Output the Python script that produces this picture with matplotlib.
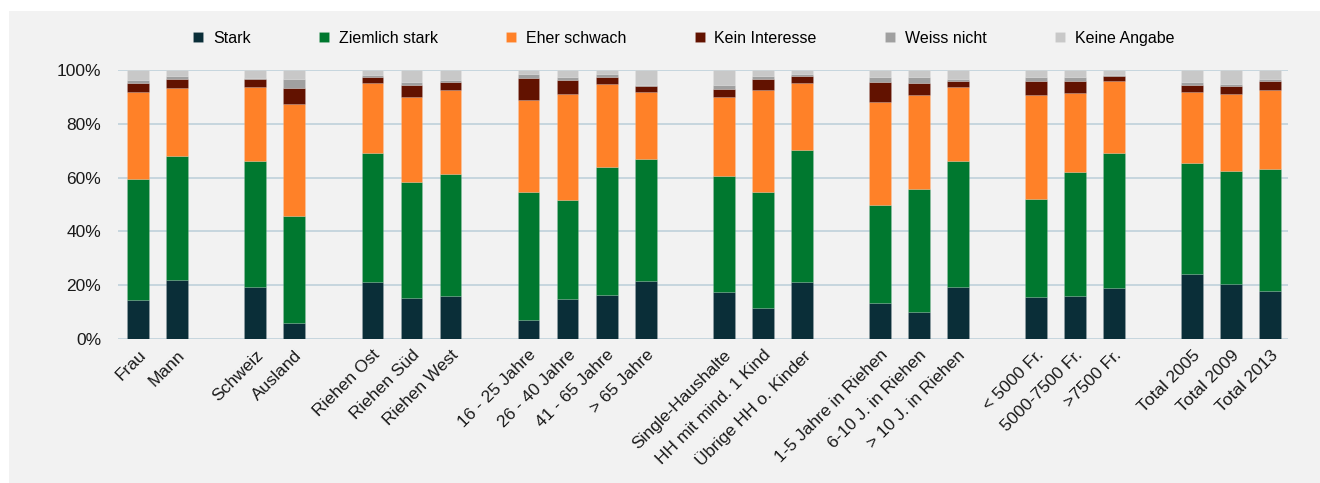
import numpy as np
import matplotlib
matplotlib.use("Agg")
import matplotlib.pyplot as plt
from matplotlib.patches import Rectangle
from matplotlib.ticker import FuncFormatter

plt.rcParams['font.family'] = ['Liberation Sans', 'DejaVu Sans']

# categories, with empty slots between the groups
labels = ['Frau', 'Mann', '',
          'Schweiz', 'Ausland', '',
          'Riehen Ost', 'Riehen Süd', 'Riehen West', '',
          '16 - 25 Jahre', '26 - 40 Jahre', '41 - 65 Jahre', '> 65 Jahre', '',
          'Single-Haushalte', 'HH mit mind. 1 Kind', 'Übrige HH o. Kinder', '',
          '1-5 Jahre in Riehen', '6-10 J. in Riehen', '> 10 J. in Riehen', '',
          '< 5000 Fr.', '5000-7500 Fr.', '>7500 Fr.', '',
          'Total 2005', 'Total 2009', 'Total 2013']

series = ['Stark', 'Ziemlich stark', 'Eher schwach', 'Kein Interesse', 'Weiss nicht', 'Keine Angabe']

# percent values per category (None for the gaps)
stark = [14.5, 22.1, None, 19.3, 5.8, None, 21.2, 15.3, 15.9, None,
         7.0, 14.9, 16.4, 21.6, None, 17.4, 11.6, 21.2, None,
         13.3, 9.9, 19.4, None, 15.5, 15.9, 19.1, None, 24.2, 20.4, 17.8]
ziemlich = [45.1, 46.0, None, 46.9, 40.0, None, 48.0, 43.0, 45.5, None,
            47.7, 36.8, 47.6, 45.4, None, 43.2, 43.1, 49.2, None,
            36.5, 45.9, 46.8, None, 36.4, 46.2, 50.2, None, 41.3, 42.2, 45.6]
eher = [32.3, 25.4, None, 27.6, 41.4, None, 26.1, 31.5, 31.0, None,
        34.1, 39.5, 30.8, 24.7, None, 29.5, 38.0, 24.8, None,
        38.3, 34.8, 27.6, None, 38.9, 29.3, 26.5, None, 26.2, 28.6, 29.3]
kein = [3.4, 3.3, None, 2.7, 6.0, None, 2.0, 4.6, 3.3, None,
        8.3, 5.2, 2.7, 2.2, None, 2.9, 3.9, 2.7, None,
        7.4, 4.6, 2.2, None, 5.2, 4.7, 1.8, None, 2.7, 3.0, 3.3]
weiss = [1.0, 1.0, None, 0.5, 3.4, None, 0.8, 1.1, 0.6, None,
         1.4, 1.0, 0.9, 0.5, None, 1.4, 1.3, 0.5, None,
         1.9, 2.2, 0.5, None, 1.3, 1.3, 0.4, None, 1.1, 0.6, 0.8]
keine = [3.7, 2.2, None, 3.0, 3.4, None, 1.9, 4.5, 3.7, None,
         1.5, 2.6, 1.6, 5.6, None, 5.6, 2.1, 1.6, None,
         2.6, 2.6, 3.5, None, 2.7, 2.6, 2.0, None, 4.5, 5.2, 3.2]

colors = ['#0a2e38', '#00782f', '#ff8128', '#621200', '#a0a0a0', '#c8c8c8']

fig = plt.figure(figsize=(13.2, 4.83), dpi=100, facecolor='white')
fig.patches.append(Rectangle((9 / 1320, 0), 1, 1 - 11 / 483, transform=fig.transFigure,
                             facecolor='#f2f2f2', edgecolor='none', zorder=-10))

ax = fig.add_axes([0.0894, 0.298, 0.886, 0.557])
ax.set_facecolor('#f2f2f2')

x = np.arange(len(labels))
bottom = np.zeros(len(labels))
for name, vals, c in zip(series, [stark, ziemlich, eher, kein, weiss, keine], colors):
    v = np.array([0 if a is None else a for a in vals], dtype=float)
    ax.bar(x, v, 0.56, bottom=bottom, color=c, label=name,
           edgecolor=(1, 1, 1, 0.15), linewidth=0.5, zorder=3)
    bottom += v

ax.set_xlim(-0.52, len(labels) - 0.55)
ax.set_ylim(0, 100)
ax.set_yticks(np.arange(0, 101, 20))
ax.yaxis.set_major_formatter(FuncFormatter(lambda v, p: f'{v:.0f}%'))
ax.grid(axis='y', color='#c3d3dc', linewidth=1.3, zorder=0)
for s in ax.spines.values():
    s.set_visible(False)
ax.tick_params(axis='y', length=0, pad=12, labelsize=12.5, colors='#1a1a1a')

ticks = [i for i, l in enumerate(labels) if l]
ax.set_xticks(ticks)
ax.set_xticklabels([labels[i] for i in ticks], rotation=45, ha='right',
                   rotation_mode='anchor', fontsize=12.5, color='#1a1a1a')
ax.tick_params(axis='x', length=0, pad=6)

fig.legend(loc='center', bbox_to_anchor=(0.518, 0.921), ncol=6, frameon=False,
           fontsize=11.5, handlelength=0.62, handleheight=0.62, handletextpad=0.6,
           columnspacing=4.3)

fig.savefig('out.png', dpi=100, facecolor=fig.get_facecolor())
